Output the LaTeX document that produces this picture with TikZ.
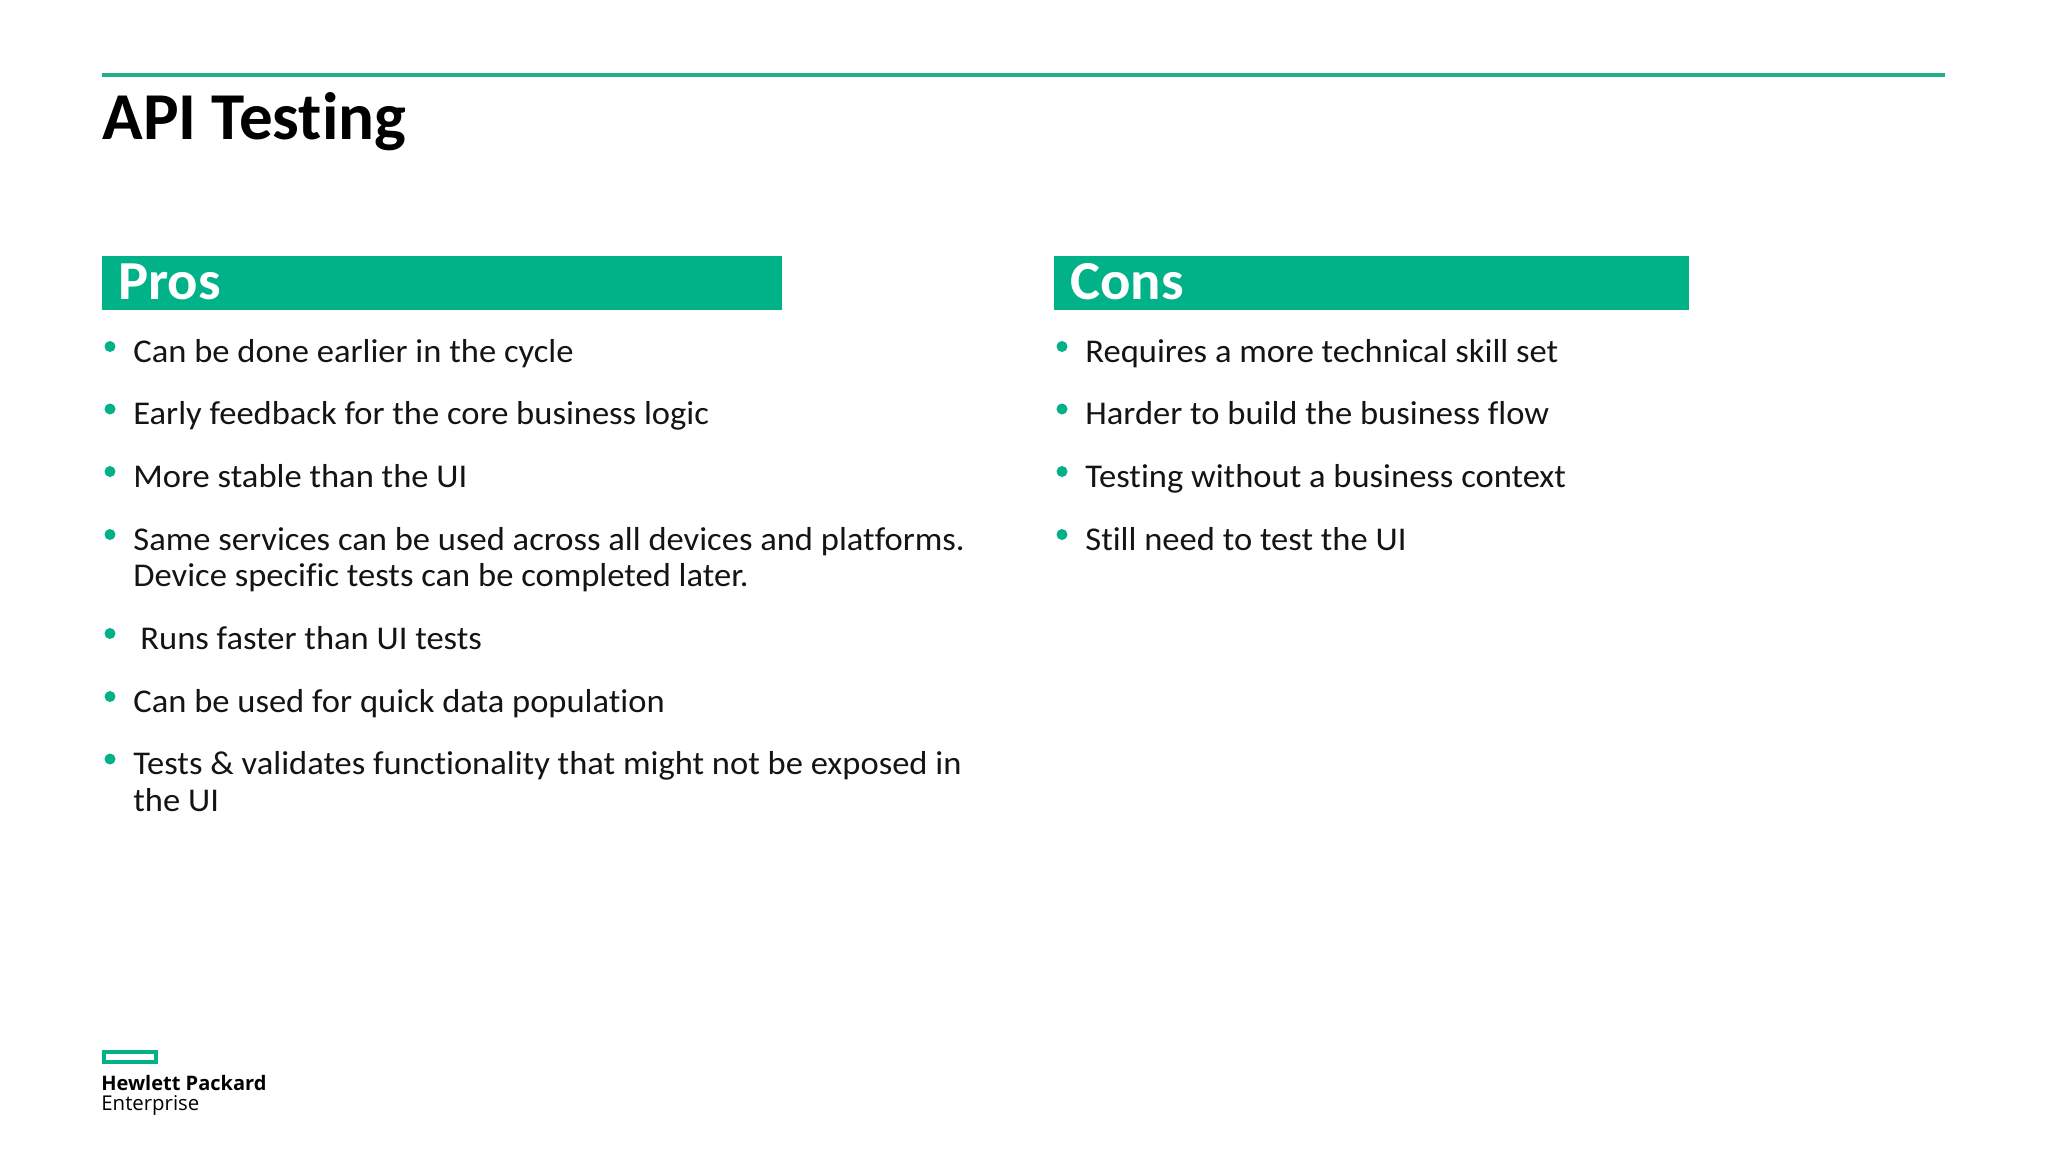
\documentclass[tikz,border=0pt]{standalone}
\usepackage{fontspec}
\setmainfont[Ligatures=NoCommon,Renderer=OpenType,FakeStretch=1.04]{Carlito}
\newfontfamily\headfont[Ligatures=NoCommon,FakeStretch=1.03]{Carlito}
\newfontfamily\titlefont[Ligatures=NoCommon]{Carlito}
\newfontfamily\logofont{Open Sans}
\definecolor{hpegreen}{HTML}{01B288}
\definecolor{hperule}{HTML}{1FAE8A}
\tikzset{
  x=0.5pt,y=-0.5pt,
  body/.style={anchor=base west,inner sep=0pt,text=black!92,font=\fontsize{16.6}{20}\selectfont},
  bullet/.style={circle,fill=hpegreen,minimum size=5.5pt,inner sep=0pt},
  band/.style={fill=hpegreen,draw=none},
  bandlabel/.style={anchor=base west,inner sep=0pt,text=white,font=\headfont\fontsize{27.5}{32}\bfseries\selectfont},
}
\begin{document}
\begin{tikzpicture}
\useasboundingbox (0,0) rectangle (2048,1152);
\fill[white] (0,0) rectangle (2048,1152);
\fill[hperule] (102,73) rectangle (1945,77);
\node[anchor=base west,inner sep=0pt,font=\titlefont\fontsize{33.5}{40}\bfseries\selectfont] (title) at (102,139) {API Testing};
% Pros
\fill[band] (102,256) rectangle (782,309.5);
\node[bandlabel] (pros) at (118,299) {Pros};
\foreach \n/\yy/\xx/\t in {
 a/362/133/{Can be done earlier in the cycle},
 b/424.5/133/{Early feedback for the core business logic},
 c/487/133/{More stable than the UI},
 d/550/133/{Same services can be used across all devices and platforms.},
 e/649/140/{Runs faster than UI tests},
 f/712/133/{Can be used for quick data population},
 g/774.5/133/{Tests \& validates functionality that might not be exposed in}}{
  \node[body] (p\n) at (\xx,\yy) {\t};
  \node[bullet] (pb\n) at (110,\yy-15.5) {};
}
\node[body] (pd2) at (133,586.5) {Device specific tests can be completed later.};
\node[body] (pg2) at (133,811) {the UI};
% Cons
\fill[band] (1054,256) rectangle (1689,309.5);
\node[bandlabel] (cons) at (1070,299) {Cons};
\foreach \n/\yy/\t in {
 a/362/{Requires a more technical skill set},
 b/424.5/{Harder to build the business flow},
 c/487/{Testing without a business context},
 d/550/{Still need to test the UI}}{
  \node[body] (c\n) at (1085,\yy) {\t};
  \node[bullet] (cb\n) at (1062,\yy-15.5) {};
}
% Logo
\draw[hpegreen,line width=2pt] (104,1052) rectangle (156,1062);
\node[anchor=base west,inner sep=0pt,font=\logofont\fontsize{10}{12}\bfseries\selectfont] (hp) at (101,1090) {Hewlett Packard};
\node[anchor=base west,inner sep=0pt,font=\logofont\fontsize{10.2}{12}\selectfont] (ent) at (101,1110) {Enterprise};
\end{tikzpicture}
\end{document}
